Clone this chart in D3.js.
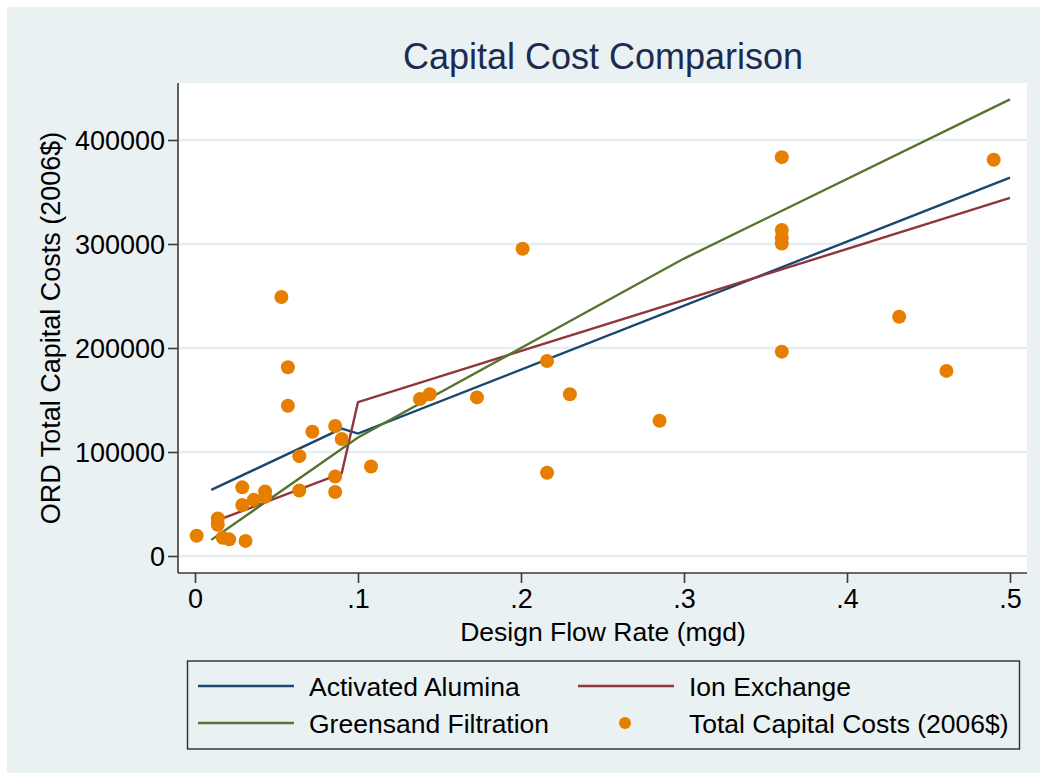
<!DOCTYPE html>
<html>
<head>
<meta charset="utf-8">
<script src="https://cdn.jsdelivr.net/npm/d3@7"></script>
<style>
  html, body { margin: 0; padding: 0; background: #ffffff; }
  svg { display: block; font-family: "Liberation Sans", Arial, Helvetica, sans-serif; }
</style>
</head>
<body>
<svg id="chart" width="1042" height="780"></svg>
<script>
// Observed system costs: design flow (mgd) and total capital cost (2006 dollars)
const flowRate = [
  0.001, 0.014, 0.014, 0.017, 0.021, 0.031, 0.029, 0.029, 0.036, 0.043,
  0.043, 0.053, 0.057, 0.057, 0.064, 0.064, 0.072, 0.086, 0.090, 0.086,
  0.086, 0.108, 0.138, 0.144, 0.173, 0.201, 0.216, 0.230, 0.216, 0.285,
  0.360, 0.360, 0.360, 0.360, 0.360, 0.432, 0.461, 0.490
];
const capitalCost = [
  19500, 36000, 30000, 17500, 16000, 14500, 66000, 49000, 54000, 62000,
  57000, 249000, 181500, 144500, 96000, 63000, 119500, 125000, 112500, 76500,
  61500, 86000, 151000, 155500, 152500, 295500, 187500, 155500, 80000, 130000,
  383500, 313500, 306000, 300500, 196500, 230000, 178000, 381000
];

// Cost curves for each treatment technology
const aluminaFlow = [0.01, 0.09, 0.10, 0.50];
const aluminaCost = [63500, 122500, 117700, 363800];

const ionFlow = [0.01, 0.09, 0.10, 0.50];
const ionCost = [32000, 79500, 148000, 344300];

const greensandFlow = [0.01, 0.10, 0.20, 0.30, 0.50];
const greensandCost = [15500, 114000, 200000, 286000, 439000];

const xTicks = [0, 0.1, 0.2, 0.3, 0.4, 0.5];
const xTickLabels = ["0", ".1", ".2", ".3", ".4", ".5"];
const yTicks = [0, 100000, 200000, 300000, 400000];

const seriesNames = ["Activated Alumina", "Ion Exchange", "Greensand Filtration", "Total Capital Costs (2006$)"];

const titleText = "Capital Cost Comparison";
const xTitle = "Design Flow Rate (mgd)";
const yTitle = "ORD Total Capital Costs (2006$)";

// Palette
const colAlumina = "#1a476f";
const colIon = "#90353b";
const colGreen = "#55752f";
const colPoint = "#e67f00";
const bgColor = "#eaf1f3";
const gridColor = "#e6eef1";
const axisColor = "#3a3a3a";
const titleColor = "#1c2b50";

// Layout
const plot = { left: 178, right: 1027, top: 83, bottom: 573 };
const fs = 26.5;
const tickFs = 27;

const svg = d3.select("#chart");

svg.append("rect")
  .attr("x", 7).attr("y", 7).attr("width", 1033).attr("height", 766)
  .attr("fill", bgColor);

svg.append("rect")
  .attr("x", plot.left).attr("y", plot.top)
  .attr("width", plot.right - plot.left).attr("height", plot.bottom - plot.top)
  .attr("fill", "#ffffff");

const x = d3.scaleLinear().domain([0, 0.5]).range([195, 1010]);
const y = d3.scaleLinear().domain([0, 400000]).range([556, 140]);

// Horizontal grid
svg.append("g").selectAll("line").data(yTicks).join("line")
  .attr("x1", plot.left).attr("x2", plot.right)
  .attr("y1", d => y(d)).attr("y2", d => y(d))
  .attr("stroke", gridColor).attr("stroke-width", 2.5);

// Fitted cost curves
const lineGen = d3.line().x(d => x(d[0])).y(d => y(d[1]));
const curves = [
  { xs: aluminaFlow, ys: aluminaCost, color: colAlumina },
  { xs: ionFlow, ys: ionCost, color: colIon },
  { xs: greensandFlow, ys: greensandCost, color: colGreen }
];
curves.forEach(c => {
  svg.append("path")
    .datum(d3.zip(c.xs, c.ys))
    .attr("d", lineGen)
    .attr("fill", "none")
    .attr("stroke", c.color)
    .attr("stroke-width", 2.4)
    .attr("stroke-linejoin", "miter");
});

// Observed points
svg.append("g").selectAll("circle").data(d3.zip(flowRate, capitalCost)).join("circle")
  .attr("cx", d => x(d[0])).attr("cy", d => y(d[1]))
  .attr("r", 7).attr("fill", colPoint);

// Y axis
const yAxis = d3.axisLeft(y).tickValues(yTicks).tickSize(10).tickPadding(3).tickFormat(d3.format("d"));
const gy = svg.append("g").attr("transform", `translate(${plot.left},0)`).call(yAxis);
gy.select(".domain").attr("d", `M0,${plot.top}V${plot.bottom}`).attr("stroke", axisColor).attr("stroke-width", 1.6);
gy.selectAll(".tick line").attr("stroke", axisColor).attr("stroke-width", 1.6);
gy.selectAll(".tick text").attr("font-size", tickFs).attr("fill", "#000").attr("dy", "0.36em")
  .attr("font-family", "Liberation Sans, Arial, sans-serif");

// X axis
const xAxis = d3.axisBottom(x).tickValues(xTicks).tickSize(10).tickPadding(0)
  .tickFormat((d, i) => xTickLabels[i]);
const gx = svg.append("g").attr("transform", `translate(0,${plot.bottom})`).call(xAxis);
gx.select(".domain").attr("d", `M${plot.left},0H${plot.right}`).attr("stroke", axisColor).attr("stroke-width", 1.6);
gx.selectAll(".tick line").attr("stroke", axisColor).attr("stroke-width", 1.6);
gx.selectAll(".tick text").attr("font-size", tickFs).attr("fill", "#000")
  .attr("y", 35).attr("dy", 0)
  .attr("font-family", "Liberation Sans, Arial, sans-serif");

// Titles
svg.append("text")
  .attr("x", 603).attr("y", 69).attr("text-anchor", "middle")
  .attr("font-size", 36).attr("fill", titleColor).text(titleText);

svg.append("text")
  .attr("x", 603).attr("y", 641).attr("text-anchor", "middle")
  .attr("font-size", fs).attr("fill", "#000").text(xTitle);

svg.append("text")
  .attr("transform", "translate(60,328) rotate(-90)")
  .attr("text-anchor", "middle")
  .attr("font-size", 27).attr("fill", "#000").text(yTitle);

// Legend
const legend = svg.append("g");
legend.append("rect")
  .attr("x", 187.5).attr("y", 661).attr("width", 832).attr("height", 88)
  .attr("fill", "none").attr("stroke", "#2e2e2e").attr("stroke-width", 1.4);

const legendItems = [
  { name: seriesNames[0], color: colAlumina, kind: "line", sx: 198, tx: 309, cy: 686 },
  { name: seriesNames[1], color: colIon, kind: "line", sx: 578, tx: 689, cy: 686 },
  { name: seriesNames[2], color: colGreen, kind: "line", sx: 198, tx: 309, cy: 723 },
  { name: seriesNames[3], color: colPoint, kind: "dot", sx: 578, tx: 689, cy: 723 }
];
legendItems.forEach(it => {
  if (it.kind === "line") {
    legend.append("line")
      .attr("x1", it.sx).attr("x2", it.sx + 96)
      .attr("y1", it.cy).attr("y2", it.cy)
      .attr("stroke", it.color).attr("stroke-width", 2.4);
  } else {
    legend.append("circle")
      .attr("cx", it.sx + 47).attr("cy", it.cy).attr("r", 6).attr("fill", it.color);
  }
  legend.append("text")
    .attr("x", it.tx).attr("y", it.cy + 10)
    .attr("font-size", fs).attr("fill", "#000").text(it.name);
});
</script>
</body>
</html>
